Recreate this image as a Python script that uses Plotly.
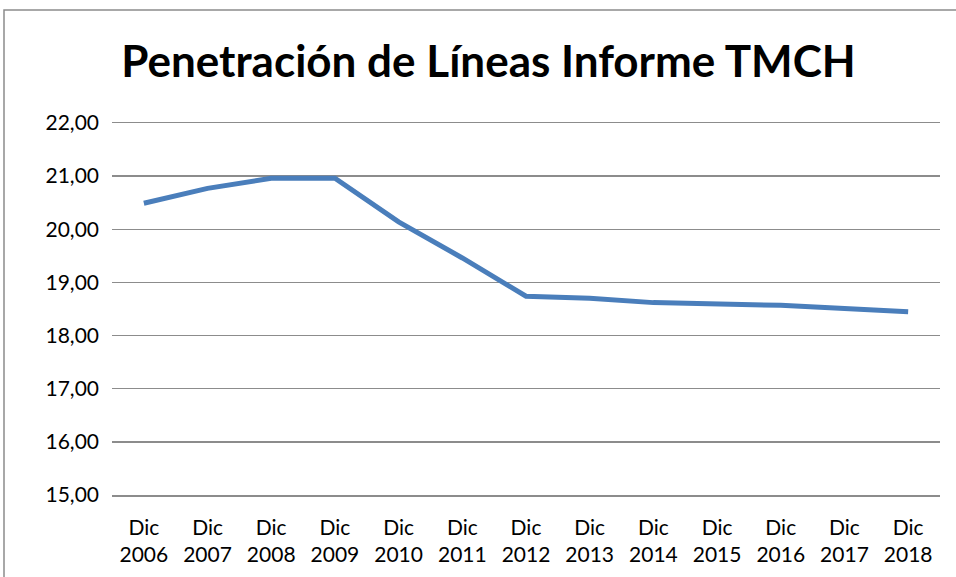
import plotly.graph_objects as go

years = ["2006", "2007", "2008", "2009", "2010", "2011", "2012",
         "2013", "2014", "2015", "2016", "2017", "2018"]
categories = ["Dic<br>" + y for y in years]
values = [20.49, 20.77, 20.96, 20.96, 20.14, 19.46, 18.74,
          18.70, 18.62, 18.60, 18.57, 18.51, 18.45]
y_ticks = [15, 16, 17, 18, 19, 20, 21, 22]

fig = go.Figure()
fig.add_trace(go.Scatter(
    x=categories, y=values, mode="lines",
    line=dict(color="#4A7EBB", width=5),
    hoverinfo="skip"
))

fig.update_layout(
    width=956, height=577,
    margin=dict(l=112, r=16, t=123, b=82, autoexpand=False),
    paper_bgcolor="white", plot_bgcolor="white",
    separators=",.",
    showlegend=False,
    title=dict(text="<b>Penetración de Líneas Informe TMCH</b>",
               x=0.511, xanchor="center", y=0.893, yanchor="middle",
               font=dict(family="Lato", size=44, color="black")),
    font=dict(family="Lato", size=21, color="black"),
    xaxis=dict(type="category", range=[-0.5, 12.5], showgrid=False,
               showline=True, mirror=True, linecolor="#8C8C8C",
               linewidth=1.5, ticks="", tickfont=dict(size=21),
               ticklabelstandoff=13, automargin=False, fixedrange=True),
    yaxis=dict(range=[15, 22], tickvals=y_ticks, tickformat=".2f",
               showgrid=True, gridcolor="#8C8C8C", gridwidth=1.5,
               zeroline=False, showline=False, ticks="",
               ticklabelstandoff=12, tickfont=dict(size=21),
               automargin=False, fixedrange=True),
    shapes=[dict(type="rect", xref="paper", yref="paper",
                 x0=-108/828, x1=1.1, y0=-0.3, y1=(577 - 10 - 82) / 372,
                 line=dict(color="#8C8C8C", width=1.5), layer="below")]
)

fig.write_html("out.html",
               config={"displayModeBar": False, "staticPlot": True},
               post_script="document.body.style.margin='0';document.body.style.overflow='hidden';")
